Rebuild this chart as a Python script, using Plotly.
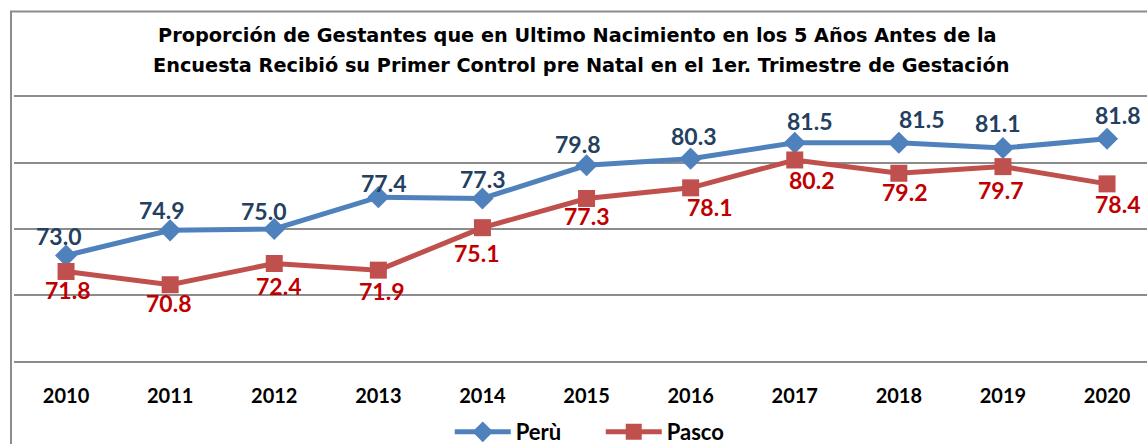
import plotly.graph_objects as go

years = ["2010", "2011", "2012", "2013", "2014", "2015", "2016", "2017", "2018", "2019", "2020"]
peru = [73.0, 74.9, 75.0, 77.4, 77.3, 79.8, 80.3, 81.5, 81.5, 81.1, 81.8]
pasco = [71.8, 70.8, 72.4, 71.9, 75.1, 77.3, 78.1, 80.2, 79.2, 79.7, 78.4]
title_lines = [
    "Proporción de Gestantes que en Ultimo Nacimiento en los 5 Años Antes de la",
    "Encuesta Recibió su Primer Control pre Natal en el 1er. Trimestre de Gestación",
]

# label nudges in pixels (style only): horizontal, vertical (+ = down)
peru_dx = [-7.5, -9, -11, 5, 0, -9, 3, 15, 23, -5, 10]
peru_dy = [-18.5, -19.5, -17, -13, -18, -20, -22, -21, -23, -24, -23]
pasco_dx = [1.5, -2, 4, 3.5, -6, 0, 19, 17, 6, -2, 10]
pasco_dy = [19.5, 19.5, 23, 22, 26, 19, 20, 21, 20, 24, 21.5]

FONT = "Lato"
xs = list(range(len(years)))

fig = go.Figure()
fig.add_trace(go.Scatter(
    x=xs, y=peru, name="Perù", mode="lines+markers",
    line=dict(color="#4f81bd", width=5),
    marker=dict(symbol="diamond", size=17, color="#4f81bd"),
    cliponaxis=False,
))
fig.add_trace(go.Scatter(
    x=xs, y=pasco, name="Pasco", mode="lines+markers",
    line=dict(color="#c0504d", width=5),
    marker=dict(symbol="square", size=17, color="#c0504d"),
    cliponaxis=False,
))

W, H = 1147, 444
ppu = 13.3           # pixels per unit
y_lo, y_hi = 64.0, 86.0
top_px = 96 - (y_hi - 85) * ppu
bot_px = 362 + (65 - y_lo) * ppu
L = 14
T = top_px
B = H - bot_px
pw = W - L
ph = bot_px - top_px
step = 104.1

def py(p):
    return (bot_px - p) / ph

def px(p):
    return (p - L) / pw

annotations = [
    dict(text=title_lines[0], x=px(577), y=py(35)),
    dict(text=title_lines[1], x=px(581), y=py(65)),
]
for a in annotations:
    a.update(xref="paper", yref="paper", xanchor="center", yanchor="middle",
             showarrow=False,
             font=dict(family="DejaVu Sans", size=19.3, color="black", weight="bold"))

for vals, dxs, dys, col in ((peru, peru_dx, peru_dy, "#243f60"),
                            (pasco, pasco_dx, pasco_dy, "#c00000")):
    for i, v in enumerate(vals):
        annotations.append(dict(
            x=xs[i], y=v, xref="x", yref="y", text=f"{v:.1f}",
            showarrow=False, xanchor="center", yanchor="middle",
            xshift=dxs[i], yshift=-dys[i] + 1,
            font=dict(family=FONT, size=23, color=col, weight="bold"),
        ))

fig.update_layout(
    width=W, height=H,
    margin=dict(l=L, r=0, t=T, b=B, autoexpand=False),
    paper_bgcolor="white", plot_bgcolor="white",
    annotations=annotations,
    xaxis=dict(
        range=[-0.5, -0.5 + pw / step],
        tickvals=xs, ticktext=years, automargin=False,
        showgrid=False, zeroline=False, showline=False,
        ticks="outside", ticklen=3, tickcolor="rgba(0,0,0,0)",
        tickfont=dict(family=FONT, size=20, color="black", weight="bold"),
    ),
    yaxis=dict(
        range=[y_lo, y_hi], automargin=False,
        tickvals=[65, 70, 75, 80, 85],
        showticklabels=False, showgrid=True,
        gridcolor="#8c8c8c", gridwidth=2, zeroline=False, showline=False,
    ),
    legend=dict(
        orientation="h", x=594 / W, xanchor="center",
        yref="container", y=1 - 432 / H, yanchor="middle",
        font=dict(family=FONT, size=22, color="black", weight="bold"),
        itemwidth=56, entrywidth=80, entrywidthmode="pixels",
        bgcolor="rgba(0,0,0,0)",
    ),
    shapes=[dict(
        type="rect", xref="paper", yref="paper",
        x0=px(11), x1=1.2, y0=-1.0, y1=py(11),
        line=dict(color="#8c8c8c", width=2), fillcolor="rgba(0,0,0,0)",
    )],
)

fig.write_html("out.html", config={"displayModeBar": False},
               post_script="document.body.style.margin='0';")
